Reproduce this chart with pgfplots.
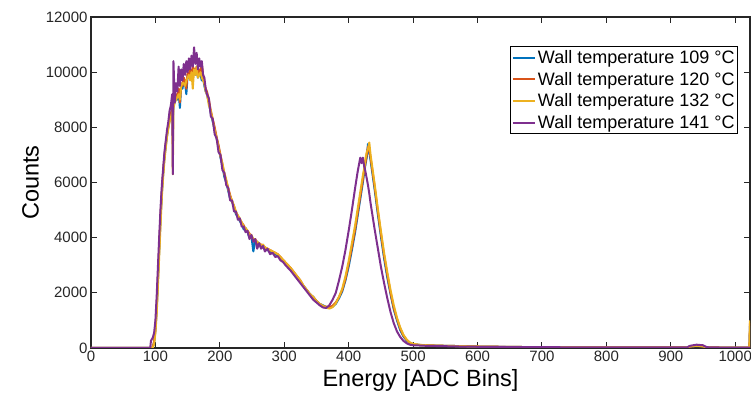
\documentclass[border=0pt]{standalone}
\usepackage{fontspec}
\setmainfont{Liberation Sans}
\usepackage{pgfplots}
\usepackage{pgfplotstable}
\pgfplotsset{compat=1.18}

\definecolor{mblue}{rgb}{0,0.447,0.741}
\definecolor{morange}{rgb}{0.85,0.325,0.098}
\definecolor{myellow}{rgb}{0.929,0.694,0.125}
\definecolor{mpurple}{rgb}{0.494,0.184,0.556}
\definecolor{axgray}{rgb}{0.15,0.15,0.15}

% x = ADC bin, a = 109 C, b = 120 C, c = 132 C, d = 141 C
\pgfplotstableread{
x a b c d
0 0 0 0 0
90 0 0 0 0
92 0 0 0 0
93 0 0 0 250
94 0 0 0 300
96 30 40 20 380
98 200 250 150 550
100 650 700 550 1000
102 1400 1500 1250 1900
104 2500 2600 2300 3000
106 3600 3700 3400 4100
108 4700 4800 4500 5100
110 5600 5700 5500 5900
112 6300 6400 6200 6500
114 6900 6950 6800 7100
116 7300 7400 7250 7500
118 7700 7750 7650 7900
120 8000 8050 7950 8200
122 8250 8300 8200 8600
124 8400 8500 8350 8800
126 8600 8700 8550 9200
127 8300 8400 6300 6300
128 8800 8900 8700 10400
130 8900 9000 8900 8900
132 9100 9200 9000 9600
134 9000 9100 9100 9300
136 9300 9400 9200 10200
138 8700 8900 9000 9500
140 9500 9600 9500 10100
142 9400 9500 9600 9700
144 9700 9800 9600 10300
146 9600 9700 9500 9900
148 9200 9400 9700 10400
150 9900 10000 9800 10000
152 9800 9900 9900 10500
154 10000 10100 9700 10100
156 9700 9800 10000 10600
158 10100 10200 9400 10200
160 10000 10100 10100 10900
162 9900 10000 9900 10300
164 10100 10200 10200 10700
166 9800 9900 9800 10100
168 10000 10100 9900 10500
170 9900 10000 10000 10200
172 9700 10300 9800 10400
174 9800 9900 9700 9900
176 9500 9600 9600 9800
178 9300 9400 9300 9400
180 9200 9300 9200 9200
183 8900 9000 8800 9050
186 8500 8600 8600 8400
189 8200 8300 8250 8300
192 7900 8000 7900 7750
195 7600 7650 7600 7600
198 7300 7350 7250 7100
201 6900 7000 6950 7000
204 6600 6650 6700 6450
207 6200 6300 6350 6350
210 6000 6050 6100 5900
213 5700 5800 5750 5800
216 5400 5550 5500 5350
219 5300 5300 5350 5350
222 5100 5150 5150 4950
225 4850 4900 4950 4950
228 4750 4800 4800 4650
231 4600 4650 4700 4700
234 4500 4550 4550 4400
237 4300 4450 4400 4400
240 4350 4300 4350 4200
243 4200 4250 4250 4250
246 4000 4150 4100 3950
249 4050 4050 4100 4100
252 3500 3900 3950 3850
255 3900 3950 3900 3950
258 3850 3800 3850 3600
261 3750 3800 3800 3800
264 3700 3750 3700 3600
267 3650 3700 3750 3700
270 3600 3650 3650 3500
274 3550 3600 3600 3600
278 3500 3550 3550 3400
282 3450 3500 3500 3450
286 3400 3450 3450 3300
290 3350 3400 3400 3330
294 3250 3300 3300 3180
298 3150 3200 3200 3120
302 3050 3100 3100 3000
306 2950 3000 3000 2900
310 2850 2900 2900 2800
315 2700 2750 2750 2650
320 2550 2600 2600 2500
325 2400 2450 2450 2350
330 2250 2250 2250 2200
335 2100 2100 2100 2050
340 1950 1950 1950 1900
345 1850 1850 1850 1750
350 1700 1700 1700 1650
355 1600 1600 1600 1550
360 1550 1520 1530 1470
365 1480 1500 1460 1450
370 1450 1480 1430 1550
375 1500 1530 1480 1750
380 1600 1650 1620 2000
385 1800 1850 1850 2450
390 2050 2100 2150 2950
395 2450 2500 2600 3550
400 2950 3050 3150 4250
405 3550 3650 3800 5000
410 4200 4300 4450 5800
414 4800 4900 5050 6400
418 5400 5500 5650 6900
420 5700 5800 5950 6700
422 6000 6100 6250 6900
424 6350 6450 6500 6600
426 6650 6700 6850 6400
428 6900 7000 7100 6150
430 7400 7300 7200 5900
432 7100 7200 7450 5600
434 6800 6900 7000 5250
437 6300 6400 6500 4800
440 5800 5900 6000 4350
445 4900 5000 5100 3650
450 4050 4150 4250 2950
455 3250 3350 3450 2350
460 2550 2650 2750 1800
465 1950 2000 2100 1300
470 1400 1450 1550 900
475 1000 1050 1100 600
480 650 700 750 400
485 420 450 480 260
490 270 290 310 170
495 180 190 200 120
500 140 140 150 100
510 110 110 115 90
520 100 100 100 80
540 85 85 85 70
560 75 75 75 60
580 65 65 65 50
600 55 55 55 45
650 40 40 40 35
700 30 30 30 30
750 25 25 25 25
800 20 20 20 20
850 20 20 20 20
900 20 20 20 20
925 20 20 20 20
930 50 50 60 80
940 70 70 80 120
950 60 60 60 100
955 30 30 30 40
960 20 20 20 20
1000 15 15 15 15
1022 15 15 15 15
1023 800 900 1000 15
}\spectra

\begin{document}
\begin{tikzpicture}
\begin{axis}[
    scale only axis,
    width=659bp, height=331bp,
    xmin=0, xmax=1023, ymin=0, ymax=12000,
    xtick={0,100,...,1000},
    ytick={0,2000,...,12000},
    scaled y ticks=false,
    /pgf/number format/1000 sep={},
    /pgf/number format/assume math mode=true,
    tick align=inside,
    major tick length=6bp,
    axis line style={axgray, line width=1.1bp},
    every tick/.style={axgray, line width=1.1bp},
    tick label style={text=axgray, font=\fontsize{15bp}{18bp}\selectfont},
    xlabel={Energy [ADC Bins]},
    ylabel={Counts},
    label style={text=black, font=\fontsize{23.5bp}{28bp}\selectfont},
    legend style={at={(0.982,0.912)}, anchor=north east, draw=black,
        line width=1.1bp, font=\fontsize{18bp}{22bp}\selectfont,
        inner xsep=1bp, inner ysep=2bp, row sep=3bp},
    legend cell align=left,
    legend image code/.code={\draw[#1, line width=2bp] (0cm,0cm) -- (0.78cm,0cm);},
    every axis plot/.append style={line width=2bp, line join=round},
]
\addplot[mblue] table[x=x, y=a] {\spectra};
\addplot[morange] table[x=x, y=b] {\spectra};
\addplot[myellow] table[x=x, y=c] {\spectra};
\addplot[mpurple] table[x=x, y=d] {\spectra};
\legend{Wall temperature 109 °C, Wall temperature 120 °C, Wall temperature 132 °C, Wall temperature 141 °C}
\end{axis}
\pgfresetboundingbox
\path[use as bounding box] (-91bp,-59bp) rectangle (660bp,348bp);
\end{tikzpicture}
\end{document}
